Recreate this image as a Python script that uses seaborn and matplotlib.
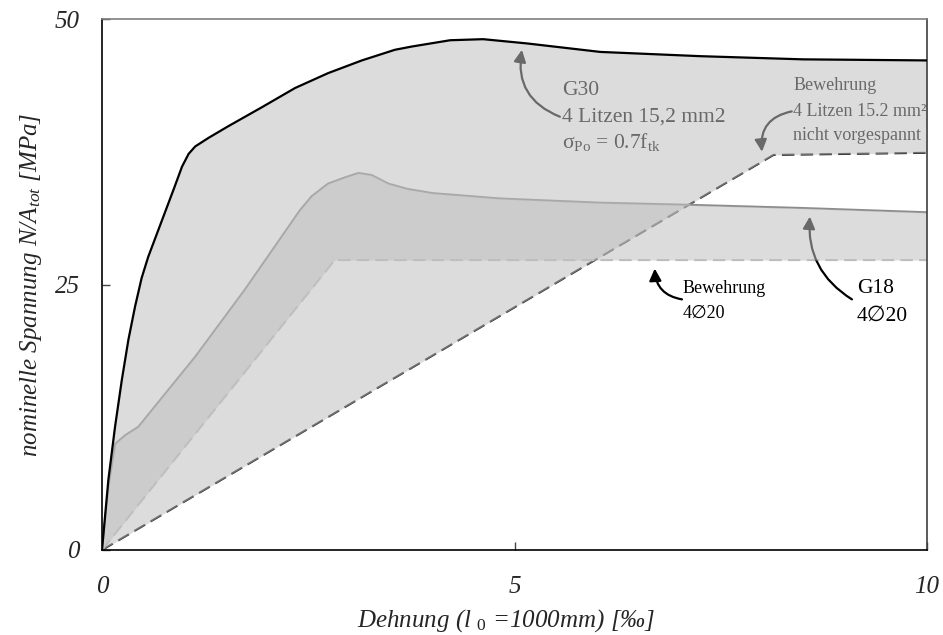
import numpy as np
import pandas as pd
import matplotlib
matplotlib.use("Agg")
import matplotlib.pyplot as plt
import seaborn as sns

# ---- measured curves -------------------------------------------------------
# G30: 4 strands 15.2 mm2, prestressed to 0.7 f_tk
g30_strain = [0, 0.077, 0.158, 0.24, 0.32, 0.40, 0.48, 0.56, 0.72, 0.88,
              0.97, 1.05, 1.13, 1.29, 1.53, 1.94, 2.34, 2.74, 3.15, 3.55, 3.75,
              4.22, 4.62, 5.15, 6.04, 7.25, 8.5, 10]
g30_stress = [0, 6.6, 11.6, 16.0, 19.8, 22.9, 25.6, 27.6, 30.9, 34.2,
              36.1, 37.3, 38.0, 38.8, 39.9, 41.7, 43.5, 44.9, 46.1, 47.1, 47.4,
              48.0, 48.1, 47.7, 46.9, 46.5, 46.2, 46.1]

# G18: 4 bars diameter 20
g18_strain = [0, 0.08, 0.16, 0.28, 0.44, 1.13, 1.73, 2.40, 2.54, 2.74, 2.95,
              3.11, 3.27, 3.47, 3.70, 4.01, 4.82, 6.04, 7.13, 8.5, 10]
g18_stress = [0, 6.0, 10.0, 10.8, 11.6, 18.2, 24.5, 32.0, 33.3, 34.5, 35.1,
              35.5, 35.3, 34.5, 34.0, 33.6, 33.1, 32.7, 32.5, 32.2, 31.8]

# bare reinforcement (bilinear)
bars_strain = [0, 2.82, 10]
bars_stress = [0, 27.3, 27.3]
strands_strain = [0, 8.14, 10]
strands_stress = [0, 37.2, 37.4]

x_ticks = [0, 5, 10]
y_ticks = [0, 25, 50]

# ---- style -----------------------------------------------------------------
sns.set_theme(style="white")
plt.rcParams["font.family"] = ["Liberation Serif", "DejaVu Sans"]
plt.rcParams["mathtext.fontset"] = "custom"
plt.rcParams["mathtext.rm"] = "Liberation Serif"
plt.rcParams["mathtext.it"] = "Liberation Serif:italic"
plt.rcParams["mathtext.bf"] = "Liberation Serif:bold"

fig = plt.figure(figsize=(9.43, 6.35), dpi=100)
ax = fig.add_axes([102 / 943, 85 / 635, 825 / 943, 531 / 635])

dash = (6, 3)
lw = 1.5

def frame(xs, ys):
    return pd.DataFrame({"x": xs, "y": ys})

# lines lying underneath the translucent areas
sns.lineplot(data=frame(strands_strain, strands_stress), x="x", y="y", ax=ax,
             color="#111111", lw=lw, linestyle=(0, dash),
             sort=False, estimator=None, zorder=2)
sns.lineplot(data=frame(bars_strain, bars_stress), x="x", y="y", ax=ax,
             color="#bdbdbd", lw=lw, linestyle=(0, dash),
             sort=False, estimator=None, zorder=2)
sns.lineplot(data=frame(g18_strain, g18_stress), x="x", y="y", ax=ax,
             color="#8c8c8c", lw=lw, sort=False, estimator=None, zorder=2)

# translucent bands between test curve and bare reinforcement
grid = np.linspace(0, 10, 2001)
area_kw = dict(color="#c0c0c0", alpha=0.55, lw=0, zorder=2.5)
ax.fill_between(grid, np.interp(grid, strands_strain, strands_stress),
                np.interp(grid, g30_strain, g30_stress), **area_kw)
ax.fill_between(grid, np.interp(grid, bars_strain, bars_stress),
                np.interp(grid, g18_strain, g18_stress), **area_kw)

sns.lineplot(data=frame(g30_strain, g30_stress), x="x", y="y", ax=ax,
             color="black", lw=1.6, sort=False, estimator=None, zorder=3)

# ---- annotations -----------------------------------------------------------
def arrow(tail, tip, rad):
    ax.annotate("", xy=tip, xytext=tail, zorder=2,
                arrowprops=dict(arrowstyle="-|>,head_length=0.6,head_width=0.3",
                                connectionstyle=f"arc3,rad={rad}",
                                color="black", lw=1.6, shrinkA=0, shrinkB=0))

txt = dict(color="black", zorder=2, ha="left", va="baseline")

ax.text(5.58, 42.84, "G30", fontsize=15.5, **txt)
ax.text(5.58, 40.33, "4 Litzen 15,2 mm2", fontsize=15.5, **txt)
ax.text(5.58, 37.85, r"$\mathregular{\sigma_{Po}}$ = 0.7f$_\mathregular{tk}$",
        fontsize=15.5, **txt)
arrow((5.55, 40.8), (5.09, 47.1), -0.4)

ax.text(8.38, 43.3, "Bewehrung", fontsize=13, clip_on=True, **txt)
ax.text(8.38, 40.9, "4 Litzen 15.2 mm²", fontsize=13, clip_on=True, **txt)
ax.text(8.38, 38.6, "nicht vorgespannt", fontsize=13, clip_on=True, **txt)
arrow((8.36, 41.3), (8.0, 37.5), 0.45)

ax.text(7.04, 24.2, "Bewehrung", fontsize=13, **txt)
ax.text(7.04, 21.9, "4∅20", fontsize=13, **txt)
arrow((7.03, 23.6), (6.70, 26.5), -0.4)

ax.text(9.15, 24.2, "G18", fontsize=15.5, **txt)
ax.text(9.15, 21.6, "4∅20", fontsize=15.5, **txt)
arrow((9.09, 23.6), (8.58, 31.4), -0.3)

# ---- axes ------------------------------------------------------------------
ax.set_xlim(0, 10)
ax.set_ylim(0, 50)
ax.set_xticks(x_ticks)
ax.set_yticks(y_ticks)
ax.set_xticklabels([str(v) for v in x_ticks], fontstyle="italic", fontsize=18)
ax.set_yticklabels([str(v) for v in y_ticks], fontstyle="italic", fontsize=18)
ax.tick_params(axis="x", direction="in", length=5.5, width=1, color="#444444",
               pad=19, bottom=True)
ax.tick_params(axis="y", direction="in", length=5.5, width=1, color="#444444",
               pad=16, left=True)

ax.set_xlabel(r"Dehnung (l $_0$ =1000mm) [‰]", fontstyle="italic", fontsize=18)
ax.set_ylabel(r"nominelle Spannung N/A$_{tot}$ [MPa]", fontstyle="italic",
              fontsize=18)
ax.xaxis.set_label_coords(0.49, -0.107)
ax.yaxis.set_label_coords(-0.07, 0.5)

for side, col in [("left", "black"), ("bottom", "black"),
                  ("top", "#7f7f7f"), ("right", "#404040")]:
    ax.spines[side].set_visible(True)
    ax.spines[side].set_color(col)
    ax.spines[side].set_linewidth(1.2)
ax.grid(False)
ax.set_facecolor("white")
fig.patch.set_facecolor("white")

fig.savefig("out.png", dpi=100)
